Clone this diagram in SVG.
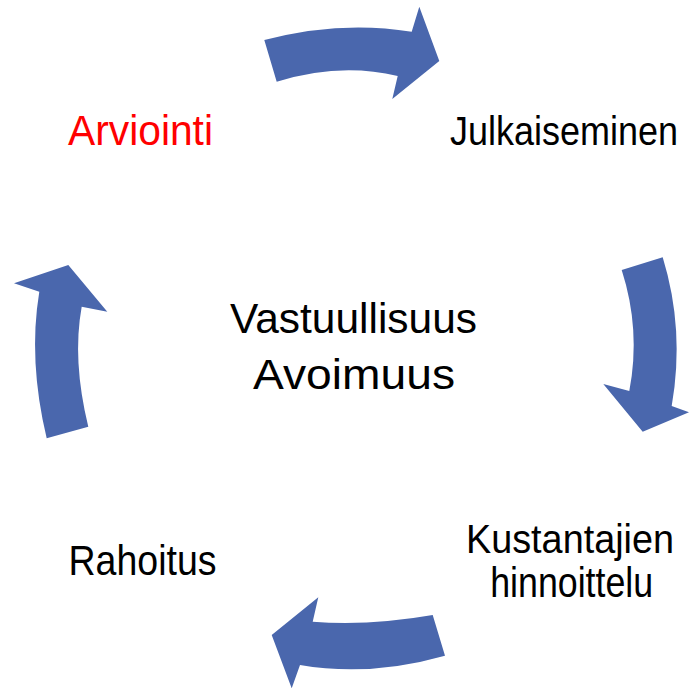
<svg xmlns="http://www.w3.org/2000/svg" width="689" height="688" viewBox="0 0 689 688">
<style>
.lbl{font-family:"Liberation Sans",Arial,sans-serif;font-size:42px;fill:#000;text-anchor:middle}
.sm{font-size:40px}
.red{fill:#ff0000}
.arr{fill:#4a67ad}
</style>
<rect width="689" height="688" fill="#fff"/>
<g id="connectors">
<path class="arr" d="M264.3,40 Q340,20 411.7,31.7 L419.3,6.7 L439.3,61 L392.3,99 L397.7,76 Q340,62 276.7,81.7 Z"/>
<path class="arr" d="M621.7,270 L662.7,257.3 Q685,330 671.7,406 L689,412.3 L642.7,431.7 L603.3,384 L629.3,391 Q641,330 621.7,270 Z"/>
<path class="arr" d="M432.7,615 Q370,626 312.7,621.7 L318.3,597.3 L271.7,635 L291.7,688.3 L300,665 Q370,677 445,655.7 Z"/>
<path class="arr" d="M46.7,438.3 L88.3,426.7 Q72,360 81.7,306.7 L107.3,311.7 L68.3,265 L14,283.3 L39.3,291.7 Q28,360 46.7,438.3 Z"/>
</g>
<g id="arviointi"><text class="lbl red" x="140.5" y="145" textLength="145" lengthAdjust="spacingAndGlyphs">Arviointi</text></g>
<g id="julkaiseminen"><text class="lbl sm" x="564" y="145" textLength="228" lengthAdjust="spacingAndGlyphs">Julkaiseminen</text></g>
<g id="center"><text class="lbl" x="353.5" y="333" textLength="247" lengthAdjust="spacingAndGlyphs">Vastuullisuus</text><text class="lbl" x="354" y="389" textLength="202" lengthAdjust="spacingAndGlyphs">Avoimuus</text></g>
<g id="kustantajien"><text class="lbl sm" x="570" y="553" textLength="208" lengthAdjust="spacingAndGlyphs">Kustantajien</text><text class="lbl" x="571.7" y="596.5" textLength="163" lengthAdjust="spacingAndGlyphs">hinnoittelu</text></g>
<g id="rahoitus"><text class="lbl" x="142.5" y="575" textLength="148" lengthAdjust="spacingAndGlyphs">Rahoitus</text></g>
</svg>
